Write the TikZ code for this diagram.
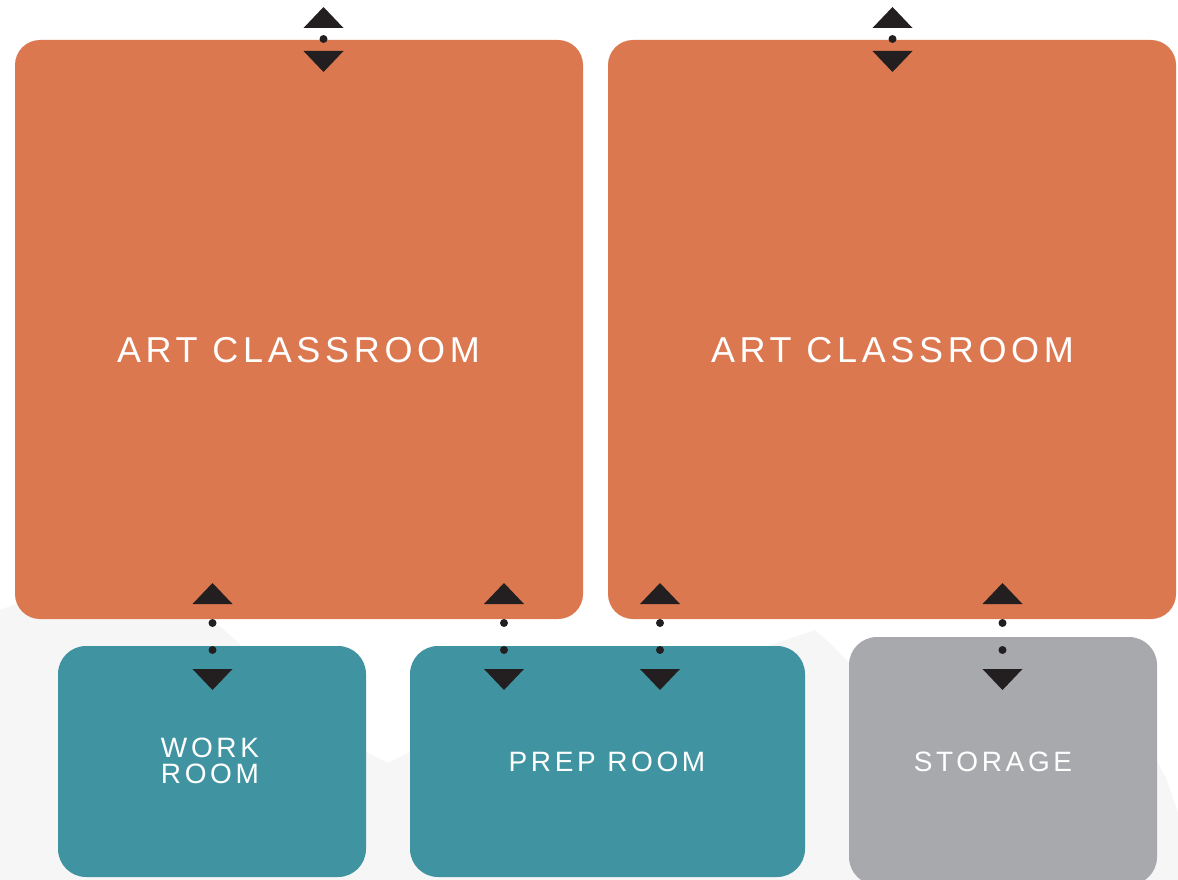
\documentclass[tikz,border=0pt]{standalone}
\usepackage{fontspec}
\newfontfamily\labelfont{Liberation Sans}[LetterSpace=13]
\definecolor{artorange}{HTML}{DC7850}
\definecolor{roomteal}{HTML}{4094A1}
\definecolor{storegrey}{HTML}{A8A9AC}
\definecolor{ink}{HTML}{231F20}
\definecolor{hill}{HTML}{F6F6F6}
\tikzset{
  box/.style={rectangle, draw=none, inner sep=0pt, outer sep=0pt},
  artbox/.style={box, fill=artorange, rounded corners=25pt, minimum width=568pt, minimum height=579pt},
  roombox/.style={box, fill=roomteal, rounded corners=28pt, minimum height=231pt},
  storebox/.style={box, fill=storegrey, rounded corners=28pt, minimum width=308pt, minimum height=248pt},
  biglabel/.style={text=white, inner sep=0pt, font=\labelfont\fontsize{36}{40}\selectfont},
  smalllabel/.style={text=white, inner sep=0pt, align=center, font=\labelfont\fontsize{28}{25}\selectfont},
  pics/shortlink/.style={code={
    \fill[ink] (-20,-11) -- (20,-11) -- (0,-32) -- cycle;
    \fill[ink] (0,0) circle[radius=4];
    \fill[ink] (-20,12) -- (20,12) -- (0,33) -- cycle;
  }},
  pics/longlink/.style={code={
    \fill[ink] (-20,-19) -- (20,-19) -- (0,-40) -- cycle;
    \fill[ink] (0,0) circle[radius=4];
    \fill[ink] (0,27) circle[radius=4];
    \fill[ink] (-20,46) -- (20,46) -- (0,67) -- cycle;
  }},
}
\begin{document}
\begin{tikzpicture}[x=1pt, y=-1pt]
\useasboundingbox (0,0) rectangle (1178,880);
\fill[white] (0,0) rectangle (1178,880);
% background hills
\fill[hill] (0,610) -- (40,595) -- (150,590) -- (195,612) -- (222,628) -- (248,652)
  -- (300,700) -- (366,752) -- (388,763) -- (410,752) -- (500,705) -- (720,662)
  -- (780,642) -- (815,630) -- (832,645) -- (850,664) -- (1000,720) -- (1157,762)
  -- (1166,778) -- (1178,813) -- (1178,880) -- (0,880) -- cycle;
% rooms
\node[artbox] (art1) at (299,329.5) {};
\node[artbox] (art2) at (892,329.5) {};
\node[roombox, minimum width=308pt] (work) at (212,761.5) {};
\node[roombox, minimum width=395pt] (prep) at (607.5,761.5) {};
\node[storebox] (store) at (1003,761) {};
% labels
\node[biglabel] (art1t) at (298.5,350) {ART CLASSROOM};
\node[biglabel] (art2t) at (892.5,350) {ART CLASSROOM};
\node[smalllabel, anchor=base] (workt1) at (210,757.5) {WORK};
\node[smalllabel, anchor=base] (workt2) at (210,783.5) {ROOM};
\node[smalllabel] (prept) at (607,761.5) {PREP ROOM};
\node[smalllabel] (storet) at (993,761.5) {STORAGE};
% door links
\coordinate (d1) at (323.5,39);
\coordinate (d2) at (892.5,39);
\coordinate (d3) at (212.5,623);
\coordinate (d4) at (504,623);
\coordinate (d5) at (660,623);
\coordinate (d6) at (1002.5,623);
\pic at (d1) {shortlink};
\pic at (d2) {shortlink};
\pic at (d3) {longlink};
\pic at (d4) {longlink};
\pic at (d5) {longlink};
\pic at (d6) {longlink};
\end{tikzpicture}
\end{document}
